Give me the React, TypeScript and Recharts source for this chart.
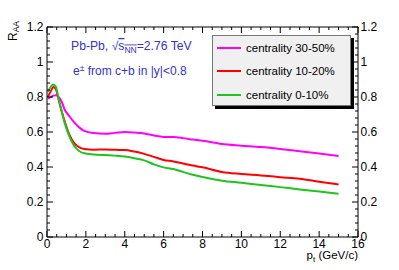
import React from "react";
import { LineChart, Line, XAxis, YAxis, Legend } from "recharts";

const pt = [0.05, 0.2, 0.33, 0.45, 0.6, 0.75, 0.9, 1.15, 1.4, 1.67, 1.92, 2.4, 3, 3.5, 4, 4.5, 5, 5.5, 6, 6.5, 7, 7.5, 8, 9, 10, 11, 12, 13, 14, 15];
const cent3050 = [0.79, 0.8, 0.808, 0.81, 0.8, 0.775, 0.73, 0.69, 0.655, 0.625, 0.606, 0.594, 0.59, 0.595, 0.6, 0.597, 0.592, 0.58, 0.572, 0.571, 0.565, 0.557, 0.55, 0.531, 0.522, 0.514, 0.503, 0.49, 0.477, 0.463];
const cent1020 = [0.8, 0.835, 0.857, 0.845, 0.785, 0.72, 0.665, 0.585, 0.537, 0.512, 0.503, 0.499, 0.5, 0.498, 0.497, 0.488, 0.475, 0.458, 0.44, 0.432, 0.42, 0.408, 0.398, 0.371, 0.36, 0.352, 0.342, 0.333, 0.316, 0.3];
const cent010 = [0.83, 0.86, 0.872, 0.86, 0.79, 0.72, 0.655, 0.575, 0.52, 0.49, 0.478, 0.472, 0.468, 0.465, 0.46, 0.45, 0.438, 0.415, 0.398, 0.389, 0.372, 0.356, 0.343, 0.322, 0.31, 0.297, 0.285, 0.272, 0.26, 0.247];

const seriesNames = ["centrality 30-50%", "centrality 10-20%", "centrality 0-10%"];

const xMajor = [0, 2, 4, 6, 8, 10, 12, 14, 16];
const xMinorStep = 0.5;
const yMajor = [0, 0.2, 0.4, 0.6, 0.8, 1, 1.2];
const yMinorStep = 0.04;
const yMajorLabels = ["0", "0.2", "0.4", "0.6", "0.8", "1", "1.2"];

const data = pt.map((p, i) => ({ pt: p, c3050: cent3050[i], c1020: cent1020[i], c010: cent010[i] }));

const xTicks: number[] = [];
for (let k = 0; k <= 32; k++) xTicks.push(Math.round(k * xMinorStep * 100) / 100);
const yTicks: number[] = [];
for (let k = 0; k <= 30; k++) yTicks.push(Math.round(k * yMinorStep * 100) / 100);

const FONT = "'Liberation Sans', Arial, Helvetica, sans-serif";
const MAJ = 6;
const MIN = 3;

const isMajor = (v: number, arr: number[]) => arr.some((m) => Math.abs(m - v) < 1e-6);
const yLabel = (v: number) => yMajorLabels[yMajor.findIndex((m) => Math.abs(m - v) < 1e-6)];

const LeftTick = (props: any) => {
  const { x, y, payload } = props;
  const major = isMajor(payload.value, yMajor);
  return (
    <g>
      <line x1={x} x2={x + (major ? MAJ : MIN)} y1={y} y2={y} stroke="#000" strokeWidth={1} />
      {major && (
        <text x={x - 3.5} y={y} dy="0.36em" textAnchor="end" fontSize={12} fontFamily={FONT} fill="#000">
          {yLabel(payload.value)}
        </text>
      )}
    </g>
  );
};

const RightTick = (props: any) => {
  const { x, y, payload } = props;
  const major = isMajor(payload.value, yMajor);
  return (
    <g>
      <line x1={x} x2={x - (major ? MAJ : MIN)} y1={y} y2={y} stroke="#000" strokeWidth={1} />
      {major && (
        <text x={x + 2.5} y={y} dy="0.36em" textAnchor="start" fontSize={12} fontFamily={FONT} fill="#000">
          {yLabel(payload.value)}
        </text>
      )}
    </g>
  );
};

const BottomTick = (props: any) => {
  const { x, y, payload } = props;
  const major = isMajor(payload.value, xMajor);
  return (
    <g>
      <line x1={x} x2={x} y1={y} y2={y - (major ? MAJ : MIN)} stroke="#000" strokeWidth={1} />
      {major && (
        <text x={x} y={y + 10.5} textAnchor="middle" fontSize={12} fontFamily={FONT} fill="#000">
          {String(payload.value)}
        </text>
      )}
    </g>
  );
};

const TopTick = (props: any) => {
  const { x, y, payload } = props;
  const major = isMajor(payload.value, xMajor);
  return <line x1={x} x2={x} y1={y} y2={y + (major ? MAJ : MIN)} stroke="#000" strokeWidth={1} />;
};

const LegendBox = (props: any) => {
  const payload = [...(props.payload || [])].sort(
    (a: any, b: any) => seriesNames.indexOf(a.value) - seriesNames.indexOf(b.value)
  );
  return (
    <div
      style={{
        width: 139,
        height: 71,
        boxSizing: "border-box",
        background: "#f0f0f0",
        border: "1px solid #777",
        boxShadow: "3px 3px 0 #000",
        fontFamily: FONT,
        fontSize: 11.5,
        color: "#000",
        paddingTop: 0,
      }}
    >
      {payload.map((e: any, i: number) => (
        <div key={i} style={{ display: "flex", alignItems: "center", height: 23.5 }}>
          <div style={{ width: 24, height: 2, background: e.color, marginLeft: 4, marginRight: 5 }} />
          <span>{e.value}</span>
        </div>
      ))}
    </div>
  );
};

const BLUE = "#3333cc";

export default function App() {
  return (
    <div style={{ position: "absolute", left: 0, top: 0, width: 399, height: 270, background: "#fff" }}>
      <LineChart width={399} height={270} data={data} margin={{ top: 26, right: 40, bottom: 32, left: 46 }}>
        <XAxis
          dataKey="pt"
          type="number"
          domain={[0, 16]}
          ticks={xTicks}
          interval={0}
          allowDataOverflow
          height={1}
          tickSize={0}
          tickMargin={0}
          tickLine={false}
          axisLine={{ stroke: "#000", strokeWidth: 1 }}
          tick={BottomTick}
        />
        <XAxis
          xAxisId="top"
          orientation="top"
          dataKey="pt"
          type="number"
          domain={[0, 16]}
          ticks={xTicks}
          interval={0}
          allowDataOverflow
          height={1}
          tickSize={0}
          tickMargin={0}
          tickLine={false}
          axisLine={{ stroke: "#000", strokeWidth: 1 }}
          tick={TopTick}
        />
        <YAxis
          type="number"
          domain={[0, 1.2]}
          ticks={yTicks}
          interval={0}
          allowDataOverflow
          width={1}
          tickSize={0}
          tickMargin={0}
          tickLine={false}
          axisLine={{ stroke: "#000", strokeWidth: 1 }}
          tick={LeftTick}
        />
        <YAxis
          yAxisId="right"
          orientation="right"
          type="number"
          domain={[0, 1.2]}
          ticks={yTicks}
          interval={0}
          allowDataOverflow
          width={1}
          tickSize={0}
          tickMargin={0}
          tickLine={false}
          axisLine={{ stroke: "#000", strokeWidth: 1 }}
          tick={RightTick}
        />
        <Legend
          layout="vertical"
          align="center"
          verticalAlign="middle"
          wrapperStyle={{ left: 212, top: 35, width: 139, height: 71 }}
          content={LegendBox}
        />
        <Line dataKey="c3050" name={seriesNames[0]} stroke="#ff00ff" strokeWidth={2} dot={false} type="monotone" isAnimationActive={false} />
        <Line dataKey="c1020" name={seriesNames[1]} stroke="#ff0000" strokeWidth={2} dot={false} type="monotone" isAnimationActive={false} />
        <Line dataKey="c010" name={seriesNames[2]} stroke="#1fc41f" strokeWidth={2} dot={false} type="monotone" isAnimationActive={false} />
        <text x={358} y={259} textAnchor="end" fontFamily={FONT} fontSize={11.5} fill="#000">
          p<tspan fontSize={8} dy={3}>t</tspan>
          <tspan dy={-3}> (GeV/c)</tspan>
        </text>
        <text x={71} y={50} fontFamily={FONT} fontSize={12.2} fill={BLUE}>
          Pb-Pb, √<tspan textDecoration="overline">s<tspan fontSize={8.5} dy={2.5}>NN</tspan></tspan>
          <tspan dy={-2.5}>=2.76 TeV</tspan>
        </text>
        <text x={73} y={75} fontFamily={FONT} fontSize={12} fill={BLUE}>
          e<tspan fontSize={8.5} dy={-4}>±</tspan>
          <tspan dy={4}> from c+b in |y|&lt;0.8</tspan>
        </text>
      </LineChart>
      <div
        style={{
          position: "absolute",
          left: 6,
          top: 41,
          transform: "rotate(-90deg)",
          transformOrigin: "top left",
          fontFamily: FONT,
          fontSize: 12,
          lineHeight: "14px",
          whiteSpace: "nowrap",
          color: "#000",
        }}
      >
        R<span style={{ fontSize: 8.5, position: "relative", top: 2 }}>AA</span>
      </div>
    </div>
  );
}
